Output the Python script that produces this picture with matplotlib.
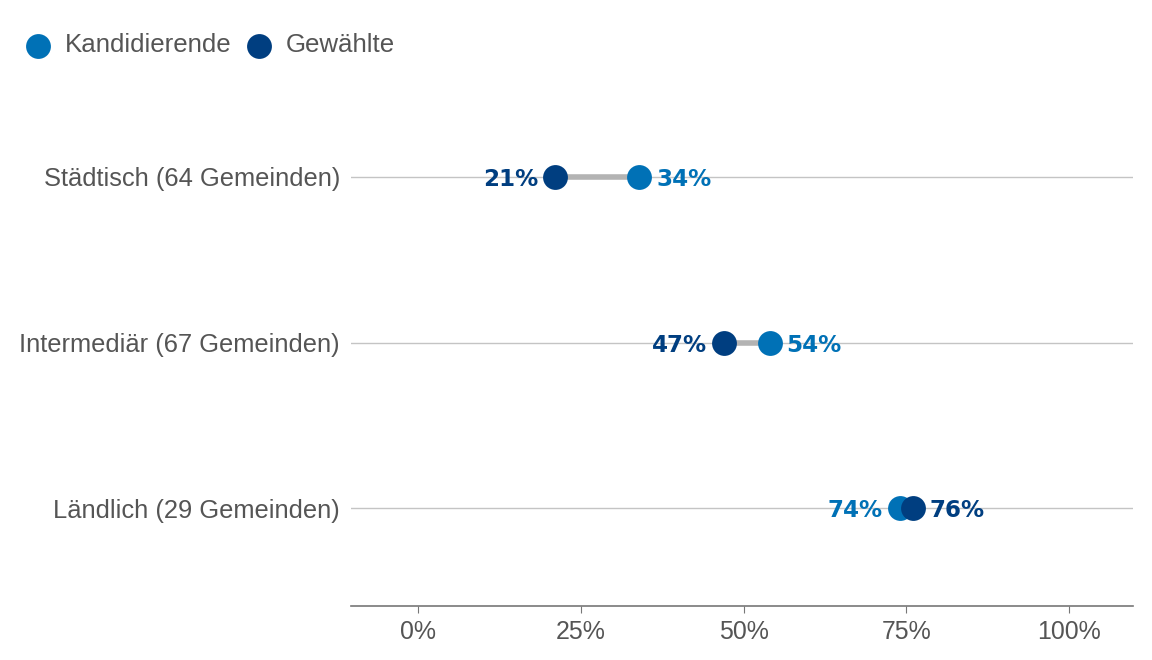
import matplotlib.pyplot as plt

# data
categories = ["Ländlich (29 Gemeinden)", "Intermediär (67 Gemeinden)", "Städtisch (64 Gemeinden)"]
kandidierende = [74, 54, 34]
gewaehlte = [76, 47, 21]
ticks = [0, 25, 50, 75, 100]

c_kand = "#0071b6"
c_gew = "#003e80"
grey_text = "#555555"

plt.rcParams["font.family"] = ["Liberation Sans", "DejaVu Sans"]

fig = plt.figure(figsize=(11.52, 6.6), dpi=100)
ax = fig.add_axes([0.3047, 0.0818, 0.6788, 0.797])

ys = list(range(len(categories)))

for y in ys:
    ax.axhline(y, color="#c4c4c4", lw=1, zorder=0)

# connector lines
for y, k, g in zip(ys, kandidierende, gewaehlte):
    ax.plot([k, g], [y, y], color="#b3b3b3", lw=4, zorder=1, solid_capstyle="butt")

ax.scatter(kandidierende, ys, s=320, color=c_kand, zorder=2, label="Kandidierende", linewidths=0)
ax.scatter(gewaehlte, ys, s=320, color=c_gew, zorder=3, label="Gewählte", linewidths=0)

# value labels: lower value on the left, higher on the right
for y, k, g in zip(ys, kandidierende, gewaehlte):
    for v, other, col in [(k, g, c_kand), (g, k, c_gew)]:
        if v < other:
            ax.text(v - 2.6, y, f"{v}%", ha="right", va="center_baseline", color=col,
                    fontsize=16.6, fontweight="bold", family="DejaVu Sans")
        else:
            ax.text(v + 2.6, y, f"{v}%", ha="left", va="center_baseline", color=col,
                    fontsize=16.6, fontweight="bold", family="DejaVu Sans")

ax.set_xlim(-10.3, 109.8)
ax.set_ylim(-0.592, 2.586)
ax.set_yticks(ys)
ax.set_yticklabels(categories, fontsize=18.4, color=grey_text)
ax.set_xticks(ticks)
ax.set_xticklabels([f"{t}%" for t in ticks], fontsize=17.9, color=grey_text)
ax.tick_params(axis="y", length=0, pad=8)
ax.tick_params(axis="x", length=5, color="#777777", pad=5)

for s in ["top", "right", "left"]:
    ax.spines[s].set_visible(False)
ax.spines["bottom"].set_color("#777777")
ax.spines["bottom"].set_linewidth(1.2)

fig.legend(loc="upper left", bbox_to_anchor=(0.013, 0.965), frameon=False, ncol=2,
           fontsize=18.6, labelcolor=grey_text, handlelength=1.0, handletextpad=0.55,
           columnspacing=0.55, markerscale=1.0, borderaxespad=0)

fig.savefig("out.png", dpi=100)
